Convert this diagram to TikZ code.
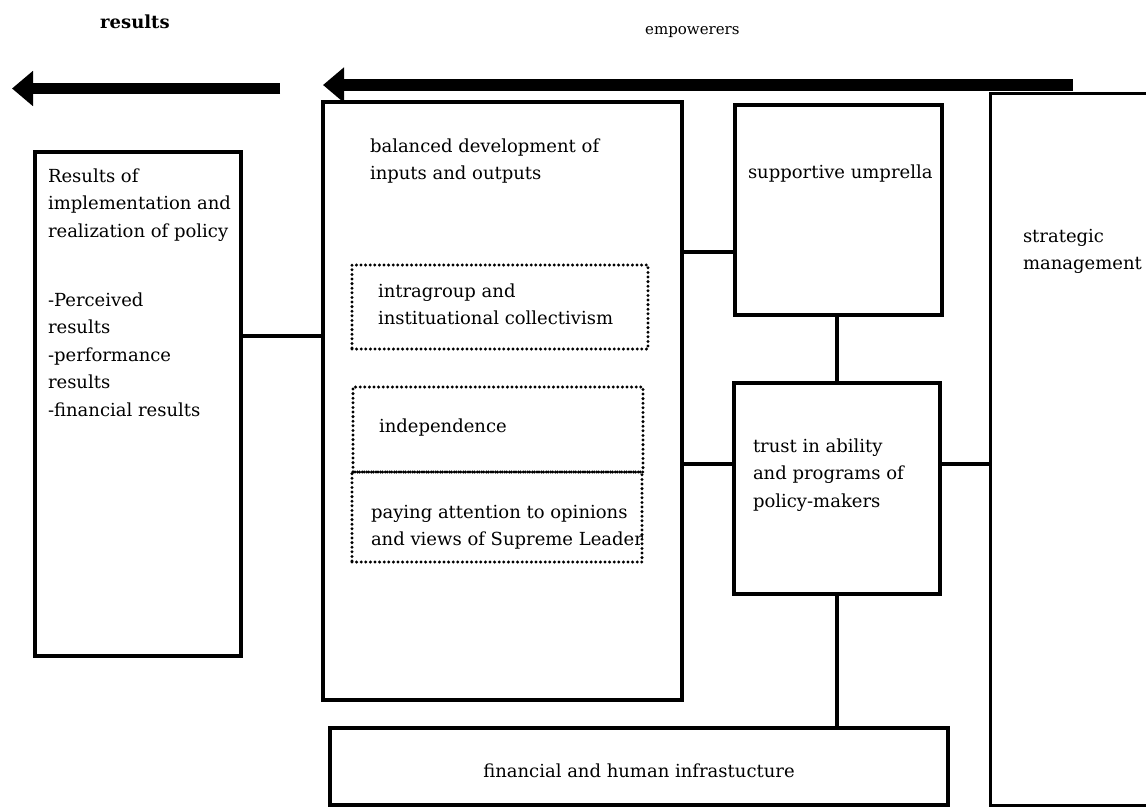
\documentclass[tikz,border=0pt]{standalone}
\usepackage{fontspec}
\setmainfont{DejaVu Serif}
\usetikzlibrary{arrows.meta}
\begin{document}
\begin{tikzpicture}[x=1pt,y=-1pt,
  box/.style={draw, line width=4pt, inner sep=0pt, outer sep=0pt, anchor=north west},
  dotbox/.style={draw, line width=3.3pt, dash pattern=on 0pt off 4.6pt, line cap=round, inner sep=0pt, outer sep=0pt, anchor=north west},
  conn/.style={line width=3.5pt},
  txt/.style={inner sep=0pt, outer sep=0pt, anchor=north west, align=left, font=\fontsize{18}{27.5}\selectfont},
  bigarrow/.style={line width=11pt, -{Triangle[length=21pt,width=34pt]}},
]
\useasboundingbox (0,0) rectangle (1146,807);
\clip (0,0) rectangle (1146,807);

% titles
\node[inner sep=0pt, anchor=base west, font=\fontsize{18}{21}\selectfont\bfseries] (tres) at (100,28) {results};
\node[inner sep=0pt, anchor=base west, font=\fontsize{15}{18}\selectfont] (temp) at (645,34) {empowerers};

% arrows
\coordinate (a1s) at (280,88.5);
\coordinate (a1t) at (12,88.5);
\draw[bigarrow] (a1s) -- (a1t);
\coordinate (a2s) at (1073,85);
\coordinate (a2t) at (323,85);
\draw[bigarrow, line width=12pt] (a2s) -- (a2t);

% boxes
\node[box, minimum width=206pt, minimum height=504pt] (left) at (35,152) {};
\node[box, minimum width=359pt, minimum height=598pt] (big) at (323,102) {};
\node[dotbox, minimum width=296pt, minimum height=84pt] (d1) at (352,265) {};
\node[dotbox, minimum width=290pt, minimum height=85pt] (d2) at (353,387) {};
\node[dotbox, minimum width=290pt, minimum height=90pt] (d3) at (352,472) {};
\node[box, minimum width=207pt, minimum height=210pt] (umb) at (735,105) {};
\node[box, minimum width=206pt, minimum height=211pt] (trust) at (734,383) {};
\node[box, minimum width=618pt, minimum height=77pt] (fin) at (330,728) {};
\node[box, line width=3pt, minimum width=220pt, minimum height=712pt] (strat) at (990,93) {};

% texts
\node[txt] (tleft1) at (48,162.75) {\strut Results of\\implementation and\\realization of policy};
\node[txt] (tleft2) at (48,286.75) {\strut -Perceived\\results\\-performance\\results\\-financial results};
\node[txt] (tbig) at (370,132.75) {\strut balanced development of\\inputs and outputs};
\node[txt] (tumb) at (748,158.75) {\strut supportive umprella};
\node[txt] (tstrat) at (1023,222.75) {\strut strategic\\management};
\node[txt] (td1) at (378,277.75) {\strut intragroup and\\instituational collectivism};
\node[txt] (td2) at (379,412.75) {\strut independence};
\node[txt] (td3) at (371,498.75) {\strut paying attention to opinions\\and views of Supreme Leader};
\node[txt] (ttrust) at (753,432.75) {\strut trust in ability\\and programs of\\policy-makers};
\node[inner sep=0pt, anchor=base, font=\fontsize{18}{27.5}\selectfont] (tfin) at (639,777) {financial and human infrastucture};

% connectors
\coordinate (c1) at (0,336);
\coordinate (c2) at (0,252);
\coordinate (c3) at (0,464);
\coordinate (c4) at (837,0);
\draw[conn] (left.east |- c1) -- (big.west |- c1);
\draw[conn] (big.east |- c2) -- (umb.west |- c2);
\draw[conn] (big.east |- c3) -- (trust.west |- c3);
\draw[conn] (trust.east |- c3) -- (strat.west |- c3);
\draw[conn] (umb.south -| c4) -- (trust.north -| c4);
\draw[conn] (trust.south -| c4) -- (fin.north -| c4);
\end{tikzpicture}
\end{document}
